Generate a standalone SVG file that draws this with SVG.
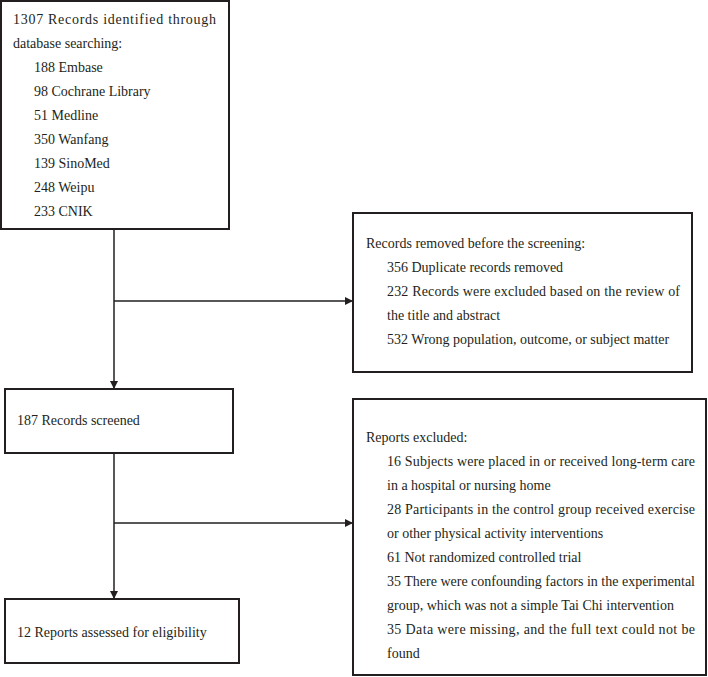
<svg xmlns="http://www.w3.org/2000/svg" width="708" height="677" viewBox="0 0 708 677">
<defs>
<style>
.box{fill:#fff;stroke:#231f20;stroke-width:2}
.t{font-family:"Liberation Serif","Times New Roman",serif;font-size:14px;fill:#231f20}
.ln{stroke:#231f20;stroke-width:1.5;fill:none}
</style>
<marker id="ah" viewBox="0 0 10 10" refX="10" refY="5" markerWidth="10" markerHeight="8" markerUnits="userSpaceOnUse" orient="auto">
<path d="M0,0 L10,5 L0,10 Z" fill="#231f20"/>
</marker>
</defs>
<rect width="708" height="677" fill="#fff"/>
<g id="connectors">
<line class="ln" x1="114" y1="229" x2="114" y2="389" marker-end="url(#ah)"/>
<line class="ln" x1="114" y1="301" x2="353" y2="301" marker-end="url(#ah)"/>
<line class="ln" x1="114" y1="453" x2="114" y2="599" marker-end="url(#ah)"/>
<line class="ln" x1="114" y1="523" x2="353" y2="523" marker-end="url(#ah)"/>
</g>
<g id="identified">
<rect class="box" x="1" y="1" width="228" height="228"/>
<text class="t" x="13" y="24" textLength="203" lengthAdjust="spacing">1307 Records identified through</text>
<text class="t" x="13" y="48">database searching:</text>
<text class="t" x="34" y="72">188 Embase</text>
<text class="t" x="34" y="96">98 Cochrane Library</text>
<text class="t" x="34" y="120">51 Medline</text>
<text class="t" x="34" y="144">350 Wanfang</text>
<text class="t" x="34" y="168">139 SinoMed</text>
<text class="t" x="34" y="192">248 Weipu</text>
<text class="t" x="34" y="216">233 CNIK</text>
</g>
<g id="removed">
<rect class="box" x="353" y="213" width="339" height="159"/>
<text class="t" x="366" y="248">Records removed before the screening:</text>
<text class="t" x="387" y="272">356 Duplicate records removed</text>
<text class="t" x="387" y="296" textLength="293" lengthAdjust="spacing">232 Records were excluded based on the review of</text>
<text class="t" x="387" y="320">the title and abstract</text>
<text class="t" x="387" y="344">532 Wrong population, outcome, or subject matter</text>
</g>
<g id="screened">
<rect class="box" x="5" y="389" width="228" height="64"/>
<text class="t" x="17" y="425">187 Records screened</text>
</g>
<g id="excluded">
<rect class="box" x="353" y="399" width="353" height="276"/>
<text class="t" x="366" y="442">Reports excluded:</text>
<text class="t" x="387" y="466" textLength="308" lengthAdjust="spacing">16 Subjects were placed in or received long-term care</text>
<text class="t" x="387" y="490">in a hospital or nursing home</text>
<text class="t" x="387" y="514" textLength="308" lengthAdjust="spacing">28 Participants in the control group received exercise</text>
<text class="t" x="387" y="538">or other physical activity interventions</text>
<text class="t" x="387" y="562">61 Not randomized controlled trial</text>
<text class="t" x="387" y="586" textLength="308" lengthAdjust="spacing">35 There were confounding factors in the experimental</text>
<text class="t" x="387" y="610">group, which was not a simple Tai Chi intervention</text>
<text class="t" x="387" y="634" textLength="308" lengthAdjust="spacing">35 Data were missing, and the full text could not be</text>
<text class="t" x="387" y="658">found</text>
</g>
<g id="eligibility">
<rect class="box" x="5" y="599" width="234" height="64"/>
<text class="t" x="17" y="637">12 Reports assessed for eligibility</text>
</g>
</svg>
